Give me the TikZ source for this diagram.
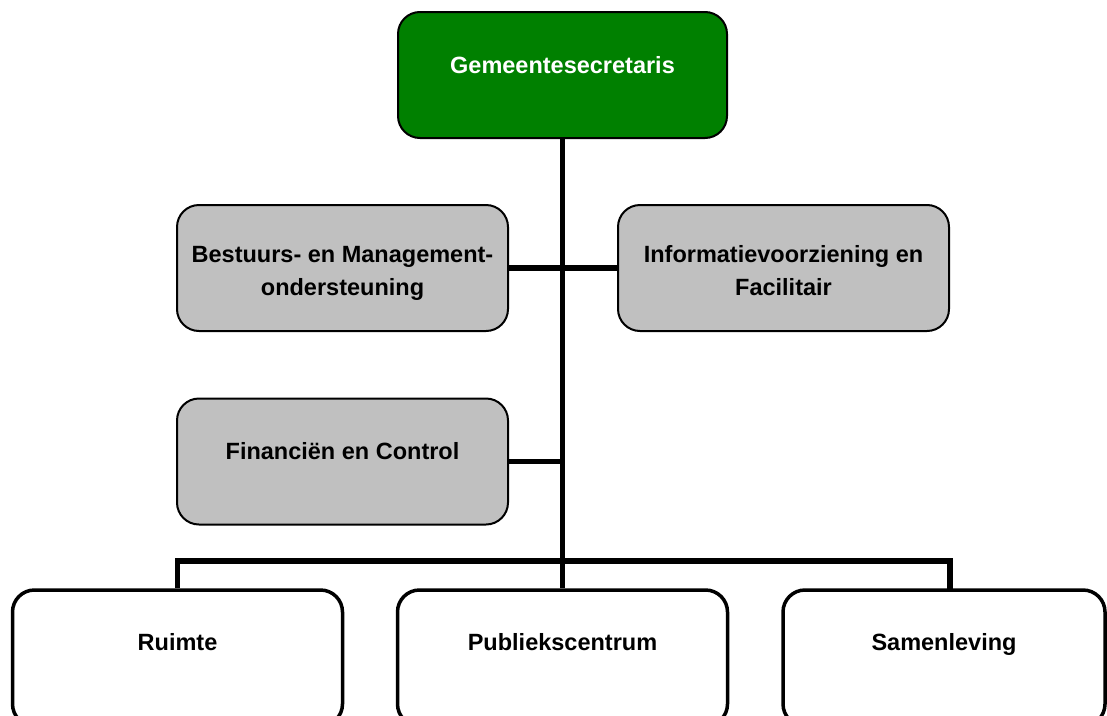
\documentclass[tikz,border=0pt]{standalone}
\usepackage{fontspec}
\setmainfont{Liberation Sans}
\usetikzlibrary{backgrounds}
\definecolor{boxgreen}{RGB}{0,128,0}
\definecolor{boxgray}{RGB}{192,192,192}
\begin{document}
\begin{tikzpicture}[x=1pt,y=-1pt,
  basebox/.style={rectangle, rounded corners=22pt, draw=black, inner sep=0pt},
  greenbox/.style={basebox, fill=boxgreen, line width=2pt, minimum width=329pt, minimum height=126pt},
  graybox/.style={basebox, fill=boxgray, line width=2pt, minimum width=331pt, minimum height=126pt},
  whitebox/.style={basebox, fill=white, line width=3.5pt, minimum width=330pt, minimum height=136pt},
  txt/.style={inner sep=0pt, anchor=base, font=\bfseries\fontsize{23.5}{33}\selectfont},
  conn/.style={line width=5.7pt, draw=black}]
\useasboundingbox (0,0) rectangle (1107,715);
\clip (0,0) rectangle (1107,715);
% boxes
\node[greenbox] (top) at (562.5,75) {};
\node[graybox] (bm) at (342.5,268) {};
\node[graybox] (iv) at (783.5,268) {};
\node[graybox] (fc) at (342.5,461.5) {};
\node[whitebox] (rm) at (177.5,658) {};
\node[whitebox] (pc) at (562.5,658) {};
\node[whitebox,minimum width=322pt] (sl) at (944,658) {};
% texts
\node[txt, text=white] (ttop) at ([yshift=-62pt]top.north) {Gemeentesecretaris};
\node[txt] (tbm1) at ([yshift=-58pt]bm.north) {Bestuurs- en Management-};
\node[txt] (tbm2) at ([yshift=-91pt]bm.north) {ondersteuning};
\node[txt] (tiv1) at ([yshift=-58pt]iv.north) {Informatievoorziening en};
\node[txt] (tiv2) at ([yshift=-91pt]iv.north) {Facilitair};
\node[txt] (tfc) at ([yshift=-62pt]fc.north) {Financiën en Control};
\node[txt] (trm) at ([yshift=-62pt]rm.north) {Ruimte};
\node[txt] (tpc) at ([yshift=-62pt]pc.north) {Publiekscentrum};
\node[txt] (tsl) at ([yshift=-62pt]sl.north) {Samenleving};
% connectors
\coordinate (bus) at (562.5,561);
\coordinate (slin) at (950,590);
\begin{scope}[on background layer]
\draw[conn] (top.south) -- (pc.north);
\draw[conn] (bm.east) -- (iv.west);
\draw[conn] (fc.east) -- (fc.east -| top.south);
\draw[conn] (rm.north) |- (bus) -| (slin);
\end{scope}
\end{tikzpicture}
\end{document}
